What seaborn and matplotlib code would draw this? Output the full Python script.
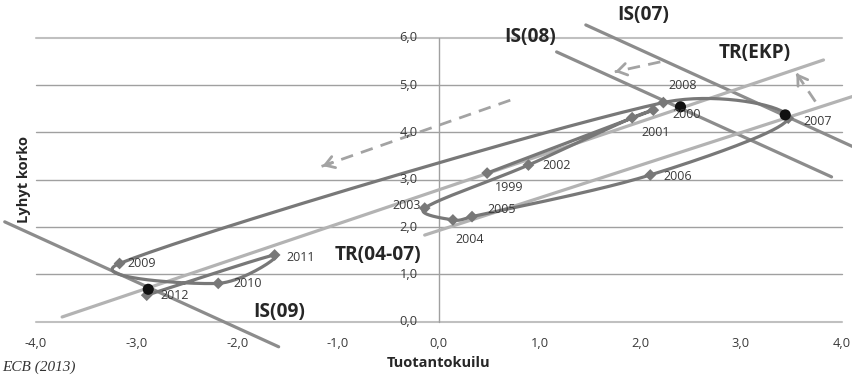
import numpy as np
import pandas as pd
import matplotlib
matplotlib.use("Agg")
import matplotlib.pyplot as plt
import seaborn as sns

# Euro area: output gap vs. short-term interest rate, annual
years = [1999, 2000, 2001, 2002, 2003, 2004, 2005, 2006, 2007, 2008, 2009, 2010, 2011, 2012]
output_gap = [0.48, 2.13, 1.92, 0.89, -0.14, 0.14, 0.33, 2.10, 3.47, 2.23, -3.17, -2.19, -1.63, -2.90]
short_rate = [3.14, 4.47, 4.31, 3.31, 2.40, 2.15, 2.22, 3.10, 4.30, 4.63, 1.23, 0.81, 1.41, 0.56]

# IS and Taylor-rule lines (end points)
is07_x, is07_y = [1.46, 4.11], [6.27, 3.70]
is08_x, is08_y = [1.17, 3.90], [5.70, 3.06]
is09_x, is09_y = [-4.31, -1.59], [2.11, -0.53]
tr_ekp_x, tr_ekp_y = [-3.74, 3.82], [0.10, 5.53]
tr0407_x, tr0407_y = [-0.14, 4.11], [1.83, 4.76]

# Equilibrium points
eq_x = [2.40, 3.44, -2.885]
eq_y = [4.54, 4.37, 0.685]

# Shift arrows (start -> end)
arrow_start = [(0.71, 4.68), (2.20, 5.49), (3.74, 4.65)]
arrow_end = [(-1.18, 3.27), (1.75, 5.28), (3.55, 5.25)]

x_ticks = [-4.0, -3.0, -2.0, -1.0, 0.0, 1.0, 2.0, 3.0, 4.0]
y_ticks = [0.0, 1.0, 2.0, 3.0, 4.0, 5.0, 6.0]

# label offsets (pixels, right / down) for the year labels
label_offsets = [(22, 14), (33, 4), (24, 15), (28, 0), (-18, -3), (17, 20), (30, -7),
                 (27, 2), (29, 3), (19, -17), (22, 0), (29, 0), (26, 3), (28, 0)]


def fmt(v):
    return f"{v:.1f}".replace(".", ",")


def smooth_path(xs, ys, steps=40, cap=0.45):
    """Catmull-Rom style curve through the points (cubic Bezier segments);
    each handle is limited to a share of its own segment length."""
    P = np.column_stack([xs, ys]).astype(float)
    n = len(P)
    out = [P[0]]
    t = np.linspace(0, 1, steps)[1:, None]

    def limit(h, seg_len):
        L = np.hypot(*h)
        m = cap * seg_len
        return h * (m / L) if L > m else h

    for i in range(n - 1):
        p0 = P[i - 1] if i > 0 else P[i]
        p1, p2 = P[i], P[i + 1]
        p3 = P[i + 2] if i + 2 < n else P[i + 1]
        seg_len = np.hypot(*(p2 - p1))
        c1 = p1 + limit((p2 - p0) / 6.0, seg_len)
        c2 = p2 - limit((p3 - p1) / 6.0, seg_len)
        seg = ((1 - t) ** 3) * p1 + 3 * ((1 - t) ** 2) * t * c1 + 3 * (1 - t) * t ** 2 * c2 + t ** 3 * p2
        out.extend(seg)
    out = np.array(out)
    return out[:, 0], out[:, 1]


sns.set_theme(style="white")
plt.rcParams["font.family"] = ["Open Sans", "DejaVu Sans"]

W, H = 853, 375
fig = plt.figure(figsize=(W / 100, H / 100), dpi=100)
ax = fig.add_axes([0, 0, 1, 1])
ax.set_xlim(-4.357, 4.113)
ax.set_ylim(-1.126, 6.797)
ax.axis("off")

grid_col = "#a0a0a0"
tick_col = "#3a3a3a"
curve_col = "#787878"
is_col = "#8c8c8c"
tr_col = "#b3b3b3"
txt_col = "#262626"

# gridlines and vertical axis
for yv in y_ticks:
    edge = yv in (y_ticks[0], y_ticks[-1])
    ax.plot([x_ticks[0], x_ticks[-1]], [yv, yv], color="#c0c0c0" if edge else grid_col,
            lw=1.5 if edge else 1.0, zorder=1)
ax.plot([0, 0], [y_ticks[0], y_ticks[-1]], color=grid_col, lw=1.0, zorder=1)

for yv in y_ticks:
    ax.text(-0.21, yv, fmt(yv), ha="right", va="center", fontsize=9.3, color=tick_col, zorder=6)
for xv in x_ticks:
    ax.text(xv, -0.45, fmt(xv), ha="center", va="center", fontsize=9.3, color=tick_col)

ax.text(0.0, -0.88, "Tuotantokuilu", ha="center", va="center", fontsize=10.5, fontweight="bold",
        color=txt_col)
ax.text(-4.12, 3.01, "Lyhyt korko", ha="center", va="center", rotation=90, fontsize=10.5,
        fontweight="bold", color=txt_col)

# IS and TR lines
lines = pd.DataFrame({
    "x": is07_x + is08_x + is09_x + tr_ekp_x + tr0407_x,
    "y": is07_y + is08_y + is09_y + tr_ekp_y + tr0407_y,
    "line": ["IS(07)"] * 2 + ["IS(08)"] * 2 + ["IS(09)"] * 2 + ["TR(EKP)"] * 2 + ["TR(04-07)"] * 2,
})
palette = {"IS(07)": is_col, "IS(08)": is_col, "IS(09)": is_col, "TR(EKP)": tr_col, "TR(04-07)": tr_col}
sns.lineplot(data=lines, x="x", y="y", hue="line", units="line", estimator=None, sort=False,
             palette=palette, lw=2.3, legend=False, ax=ax, zorder=2)

# smoothed path of the yearly observations
sx, sy = smooth_path(output_gap, short_rate)
path = pd.DataFrame({"x": sx, "y": sy})
sns.lineplot(data=path, x="x", y="y", sort=False, estimator=None, color=curve_col, lw=2.3,
             ax=ax, zorder=3)

obs = pd.DataFrame({"gap": output_gap, "rate": short_rate, "year": years})
sns.scatterplot(data=obs, x="gap", y="rate", marker="D", s=36, color=curve_col, edgecolor="none",
                ax=ax, zorder=4, legend=False)

for (gx, ry, yr), (dx, dy) in zip(zip(output_gap, short_rate, years), label_offsets):
    ax.annotate(str(yr), (gx, ry), xytext=(dx, -dy), textcoords="offset pixels", ha="center",
                va="center", fontsize=9, color=tick_col, zorder=6)

# equilibrium points
sns.scatterplot(x=eq_x, y=eq_y, s=64, color="#111111", edgecolor="none", ax=ax, zorder=5, legend=False)

# shift arrows
arrow_col = "#a3a3a3"
for (x0, y0), (x1, y1) in zip(arrow_start, arrow_end):
    ax.plot([x0, x1], [y0, y1], color=arrow_col, lw=2, ls=(0, (4.5, 3)), zorder=2)
    ax.annotate("", xy=(x1, y1), xytext=(x1 + (x0 - x1) * 0.08, y1 + (y0 - y1) * 0.08),
                arrowprops=dict(arrowstyle="->,head_length=0.55,head_width=0.35", color=arrow_col, lw=2),
                zorder=2)

# line labels
big = dict(fontsize=13.8, fontweight="bold", color=txt_col, ha="center", va="center")
ax.text(2.03, 6.47, "IS(07)", **big)
ax.text(0.91, 6.01, "IS(08)", **big)
ax.text(3.14, 5.68, "TR(EKP)", **big)
ax.text(-0.60, 1.41, "TR(04-07)", **big)
ax.text(-1.58, 0.205, "IS(09)", **big)

# source note
fig.text(2 / W, 1 - 374 / H, "ECB (2013)", ha="left", va="bottom", fontsize=11, style="italic",
         family=["Liberation Serif", "DejaVu Serif"], color="#333333")

fig.savefig("out.png", dpi=100)
